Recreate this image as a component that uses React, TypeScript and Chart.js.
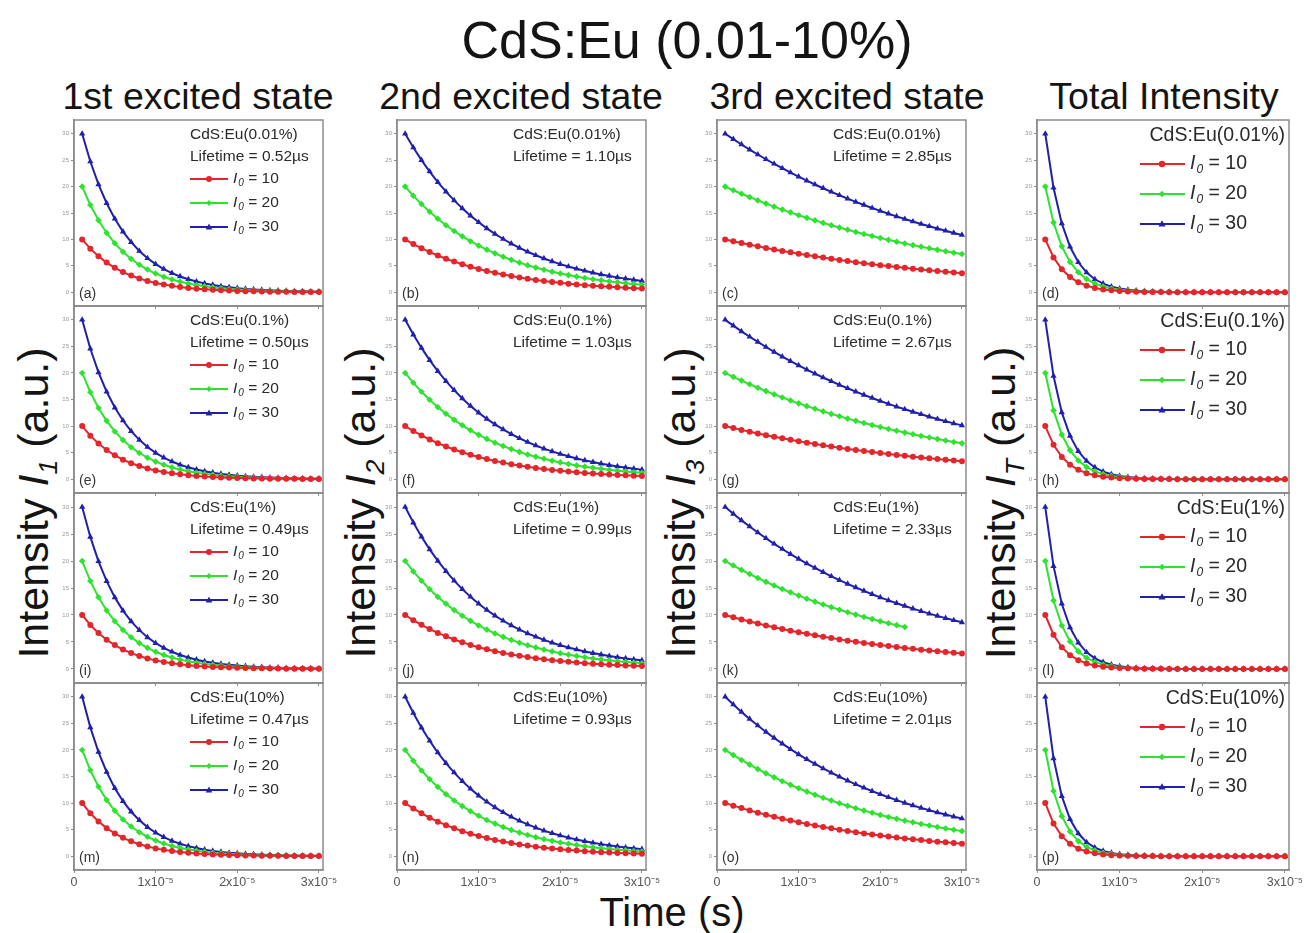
import React, { useEffect, useRef } from 'react';
import { Chart, registerables } from 'chart.js';

Chart.register(...registerables);

// ---------------- data ----------------
const TIME = [
  1e-6, 2e-6, 3e-6, 4e-6, 5e-6, 6e-6, 7e-6, 8e-6, 9e-6, 10e-6,
  11e-6, 12e-6, 13e-6, 14e-6, 15e-6, 16e-6, 17e-6, 18e-6, 19e-6, 20e-6,
  21e-6, 22e-6, 23e-6, 24e-6, 25e-6, 26e-6, 27e-6, 28e-6, 29e-6, 30e-6,
];

const DOPING = ['0.01%', '0.1%', '1%', '10%'];
const LIFETIME_1ST = ['0.52', '0.50', '0.49', '0.47'];
const LIFETIME_2ND = ['1.10', '1.03', '0.99', '0.93'];
const LIFETIME_3RD = ['2.85', '2.67', '2.33', '2.01'];
const I0_VALUES = ['10', '20', '30'];
const PANEL_LETTERS = ['a', 'b', 'c', 'd', 'e', 'f', 'g', 'h', 'i', 'j', 'k', 'l', 'm', 'n', 'o', 'p'];
const COLUMN_TITLES = ['1st excited state', '2nd excited state', '3rd excited state', 'Total Intensity'];
const Y_SUBSCRIPTS = ['1', '2', '3', 'T'];
const Y_TICKS = [0, 5, 10, 15, 20, 25, 30];
const X_TICKS = [0, 1e-5, 2e-5, 3e-5];
const X_TICK_LABELS = ['0', '1x10\u207B\u2075', '2x10\u207B\u2075', '3x10\u207B\u2075'];

// 1st excited state
const A10 = [10, 8.25, 6.81, 5.62, 4.63, 3.82, 3.16, 2.6, 2.15, 1.77, 1.46, 1.21, 1.0, 0.82, 0.68, 0.56, 0.46, 0.38, 0.31, 0.26, 0.21, 0.18, 0.15, 0.12, 0.1, 0.08, 0.07, 0.06, 0.05, 0.04];
const A20 = [20, 16.5, 13.62, 11.23, 9.27, 7.65, 6.31, 5.21, 4.3, 3.54, 2.92, 2.41, 1.99, 1.64, 1.36, 1.12, 0.92, 0.76, 0.63, 0.52, 0.43, 0.35, 0.29, 0.24, 0.2, 0.16, 0.13, 0.11, 0.09, 0.08];
const A30 = [30, 24.75, 20.42, 16.85, 13.9, 11.47, 9.47, 7.81, 6.44, 5.32, 4.39, 3.62, 2.99, 2.46, 2.03, 1.68, 1.38, 1.14, 0.94, 0.78, 0.64, 0.53, 0.44, 0.36, 0.3, 0.25, 0.2, 0.17, 0.14, 0.11];
const E10 = [10, 8.19, 6.7, 5.49, 4.49, 3.68, 3.01, 2.47, 2.02, 1.65, 1.35, 1.11, 0.91, 0.74, 0.61, 0.5, 0.41, 0.33, 0.27, 0.22, 0.18, 0.15, 0.12, 0.1, 0.08, 0.07, 0.06, 0.05, 0.04, 0.03];
const E20 = [20, 16.37, 13.41, 10.98, 8.99, 7.36, 6.02, 4.93, 4.04, 3.31, 2.71, 2.22, 1.81, 1.49, 1.22, 1.0, 0.82, 0.67, 0.55, 0.45, 0.37, 0.3, 0.25, 0.2, 0.16, 0.13, 0.11, 0.09, 0.07, 0.06];
const E30 = [30, 24.56, 20.11, 16.46, 13.48, 11.04, 9.04, 7.4, 6.06, 4.96, 4.06, 3.32, 2.72, 2.23, 1.82, 1.49, 1.22, 1.0, 0.82, 0.67, 0.55, 0.45, 0.37, 0.3, 0.25, 0.2, 0.17, 0.14, 0.11, 0.09];
const I10 = [10, 8.15, 6.65, 5.42, 4.42, 3.6, 2.94, 2.4, 1.95, 1.59, 1.3, 1.06, 0.86, 0.7, 0.57, 0.47, 0.38, 0.31, 0.25, 0.21, 0.17, 0.14, 0.11, 0.09, 0.07, 0.06, 0.05, 0.04, 0.03, 0.03];
const I20 = [20, 16.31, 13.3, 10.84, 8.84, 7.21, 5.88, 4.79, 3.91, 3.19, 2.6, 2.12, 1.73, 1.41, 1.15, 0.94, 0.76, 0.62, 0.51, 0.41, 0.34, 0.28, 0.22, 0.18, 0.15, 0.12, 0.1, 0.08, 0.07, 0.05];
const I30 = [30, 24.46, 19.95, 16.26, 13.26, 10.81, 8.82, 7.19, 5.86, 4.78, 3.9, 3.18, 2.59, 2.11, 1.72, 1.4, 1.15, 0.93, 0.76, 0.62, 0.51, 0.41, 0.34, 0.27, 0.23, 0.18, 0.15, 0.12, 0.1, 0.08];
const M10 = [10, 8.08, 6.53, 5.28, 4.27, 3.45, 2.79, 2.26, 1.82, 1.47, 1.19, 0.96, 0.78, 0.63, 0.51, 0.41, 0.33, 0.27, 0.22, 0.18, 0.14, 0.12, 0.09, 0.08, 0.06, 0.05, 0.04, 0.03, 0.03, 0.02];
const M20 = [20, 16.17, 13.07, 10.56, 8.54, 6.9, 5.58, 4.51, 3.65, 2.95, 2.38, 1.93, 1.56, 1.26, 1.02, 0.82, 0.66, 0.54, 0.43, 0.35, 0.28, 0.23, 0.19, 0.15, 0.12, 0.1, 0.08, 0.06, 0.05, 0.04];
const M30 = [30, 24.25, 19.6, 15.85, 12.81, 10.35, 8.37, 6.77, 5.47, 4.42, 3.57, 2.89, 2.33, 1.89, 1.53, 1.23, 1.0, 0.81, 0.65, 0.53, 0.43, 0.35, 0.28, 0.23, 0.18, 0.15, 0.12, 0.1, 0.08, 0.06];

// 2nd excited state
const B10 = [10, 9.13, 8.34, 7.61, 6.95, 6.35, 5.8, 5.29, 4.83, 4.41, 4.03, 3.68, 3.36, 3.07, 2.8, 2.56, 2.34, 2.13, 1.95, 1.78, 1.62, 1.48, 1.35, 1.24, 1.13, 1.03, 0.94, 0.86, 0.78, 0.72];
const B20 = [20, 18.26, 16.68, 15.23, 13.9, 12.69, 11.59, 10.58, 9.66, 8.82, 8.06, 7.36, 6.72, 6.13, 5.6, 5.11, 4.67, 4.26, 3.89, 3.56, 3.25, 2.96, 2.71, 2.47, 2.26, 2.06, 1.88, 1.72, 1.57, 1.43];
const B30 = [30, 27.39, 25.01, 22.84, 20.85, 19.04, 17.39, 15.88, 14.5, 13.24, 12.09, 11.04, 10.08, 9.2, 8.4, 7.67, 7.0, 6.4, 5.84, 5.33, 4.87, 4.45, 4.06, 3.71, 3.38, 3.09, 2.82, 2.58, 2.35, 2.15];
const F10 = [10, 9.07, 8.24, 7.47, 6.78, 6.15, 5.59, 5.07, 4.6, 4.17, 3.79, 3.44, 3.12, 2.83, 2.57, 2.33, 2.12, 1.92, 1.74, 1.58, 1.44, 1.3, 1.18, 1.07, 0.97, 0.88, 0.8, 0.73, 0.66, 0.6];
const F20 = [20, 18.15, 16.47, 14.95, 13.56, 12.31, 11.17, 10.14, 9.2, 8.35, 7.58, 6.87, 6.24, 5.66, 5.14, 4.66, 4.23, 3.84, 3.48, 3.16, 2.87, 2.6, 2.36, 2.14, 1.95, 1.77, 1.6, 1.45, 1.32, 1.2];
const F30 = [30, 27.22, 24.71, 22.42, 20.35, 18.46, 16.76, 15.2, 13.8, 12.52, 11.36, 10.31, 9.36, 8.49, 7.71, 6.99, 6.35, 5.76, 5.23, 4.74, 4.31, 3.91, 3.54, 3.22, 2.92, 2.65, 2.4, 2.18, 1.98, 1.8];
const J10 = [10, 9.04, 8.17, 7.39, 6.68, 6.04, 5.46, 4.93, 4.46, 4.03, 3.64, 3.29, 2.98, 2.69, 2.43, 2.2, 1.99, 1.8, 1.62, 1.47, 1.33, 1.2, 1.08, 0.98, 0.89, 0.8, 0.72, 0.65, 0.59, 0.53];
const J20 = [20, 18.08, 16.34, 14.77, 13.35, 12.07, 10.91, 9.86, 8.91, 8.06, 7.28, 6.58, 5.95, 5.38, 4.86, 4.4, 3.97, 3.59, 3.25, 2.93, 2.65, 2.4, 2.17, 1.96, 1.77, 1.6, 1.45, 1.31, 1.18, 1.07];
const J30 = [30, 27.12, 24.51, 22.16, 20.03, 18.11, 16.37, 14.79, 13.37, 12.09, 10.93, 9.88, 8.93, 8.07, 7.29, 6.59, 5.96, 5.39, 4.87, 4.4, 3.98, 3.6, 3.25, 2.94, 2.66, 2.4, 2.17, 1.96, 1.77, 1.6];
const N10 = [10, 8.98, 8.07, 7.24, 6.5, 5.84, 5.25, 4.71, 4.23, 3.8, 3.41, 3.06, 2.75, 2.47, 2.22, 1.99, 1.79, 1.61, 1.44, 1.3, 1.16, 1.05, 0.94, 0.84, 0.76, 0.68, 0.61, 0.55, 0.49, 0.44];
const N20 = [20, 17.96, 16.13, 14.49, 13.01, 11.68, 10.49, 9.42, 8.46, 7.6, 6.82, 6.13, 5.5, 4.94, 4.44, 3.99, 3.58, 3.21, 2.89, 2.59, 2.33, 2.09, 1.88, 1.69, 1.51, 1.36, 1.22, 1.1, 0.98, 0.88];
const N30 = [30, 26.94, 24.2, 21.73, 19.51, 17.52, 15.74, 14.13, 12.69, 11.4, 10.24, 9.19, 8.26, 7.41, 6.66, 5.98, 5.37, 4.82, 4.33, 3.89, 3.49, 3.14, 2.82, 2.53, 2.27, 2.04, 1.83, 1.64, 1.48, 1.33];

// 3rd excited state
const C10 = [10, 9.66, 9.32, 9.0, 8.69, 8.39, 8.1, 7.82, 7.55, 7.29, 7.04, 6.8, 6.56, 6.34, 6.12, 5.91, 5.7, 5.51, 5.32, 5.13, 4.96, 4.79, 4.62, 4.46, 4.31, 4.16, 4.02, 3.88, 3.74, 3.62];
const C20 = [20, 19.31, 18.64, 18.0, 17.38, 16.78, 16.2, 15.64, 15.11, 14.58, 14.08, 13.6, 13.13, 12.67, 12.24, 11.82, 11.41, 11.02, 10.64, 10.27, 9.91, 9.57, 9.24, 8.92, 8.62, 8.32, 8.03, 7.76, 7.49, 7.23];
const C30 = [30, 28.97, 27.97, 27.0, 26.07, 25.17, 24.31, 23.47, 22.66, 21.88, 21.12, 20.39, 19.69, 19.01, 18.36, 17.72, 17.11, 16.52, 15.95, 15.4, 14.87, 14.36, 13.86, 13.39, 12.92, 12.48, 12.05, 11.63, 11.23, 10.85];
const G10 = [10, 9.63, 9.28, 8.94, 8.61, 8.29, 7.99, 7.69, 7.41, 7.14, 6.88, 6.62, 6.38, 6.15, 5.92, 5.7, 5.49, 5.29, 5.1, 4.91, 4.73, 4.55, 4.39, 4.23, 4.07, 3.92, 3.78, 3.64, 3.5, 3.38];
const G20 = [20, 19.26, 18.56, 17.87, 17.22, 16.58, 15.97, 15.39, 14.82, 14.28, 13.75, 13.25, 12.76, 12.29, 11.84, 11.4, 10.98, 10.58, 10.19, 9.82, 9.46, 9.11, 8.77, 8.45, 8.14, 7.84, 7.55, 7.27, 7.01, 6.75];
const G30 = [30, 28.9, 27.83, 26.81, 25.83, 24.88, 23.96, 23.08, 22.23, 21.41, 20.63, 19.87, 19.14, 18.44, 17.76, 17.11, 16.48, 15.87, 15.29, 14.72, 14.18, 13.66, 13.16, 12.68, 12.21, 11.76, 11.33, 10.91, 10.51, 10.13];
const K10 = [10, 9.58, 9.18, 8.79, 8.42, 8.07, 7.73, 7.41, 7.09, 6.8, 6.51, 6.24, 5.98, 5.72, 5.48, 5.25, 5.03, 4.82, 4.62, 4.42, 4.24, 4.06, 3.89, 3.73, 3.57, 3.42, 3.28, 3.14, 3.01, 2.88];
const K20 = [20, 19.16, 18.35, 17.58, 16.85, 16.14, 15.46, 14.81, 14.19, 13.59, 13.02, 12.47, 11.95, 11.45, 10.97, 10.51, 10.06, 9.64, 9.24, 8.85, 8.48, 8.12, 7.78];
const K30 = [30, 28.74, 27.53, 26.38, 25.27, 24.21, 23.19, 22.22, 21.28, 20.39, 19.53, 18.71, 17.93, 17.17, 16.45, 15.76, 15.1, 14.46, 13.85, 13.27, 12.71, 12.18, 11.67, 11.18, 10.71, 10.26, 9.83, 9.42, 9.02, 8.64];
const O10 = [10, 9.51, 9.05, 8.61, 8.2, 7.8, 7.42, 7.06, 6.72, 6.39, 6.08, 5.79, 5.5, 5.24, 4.98, 4.74, 4.51, 4.29, 4.08, 3.89, 3.7, 3.52, 3.35, 3.18, 3.03, 2.88, 2.74, 2.61, 2.48, 2.36];
const O20 = [20, 19.03, 18.11, 17.23, 16.39, 15.59, 14.84, 14.12, 13.43, 12.78, 12.16, 11.57, 11.01, 10.47, 9.97, 9.48, 9.02, 8.58, 8.17, 7.77, 7.39, 7.03, 6.69, 6.37, 6.06, 5.77, 5.49, 5.22, 4.97, 4.72];
const O30 = [30, 28.54, 27.16, 25.84, 24.59, 23.39, 22.26, 21.18, 20.15, 19.17, 18.24, 17.36, 16.51, 15.71, 14.95, 14.22, 13.53, 12.88, 12.25, 11.66, 11.09, 10.55, 10.04, 9.55, 9.09, 8.65, 8.23, 7.83, 7.45, 7.09];

// Total intensity
const D10 = [10, 6.59, 4.35, 2.87, 1.89, 1.25, 0.82, 0.54, 0.36, 0.24, 0.16, 0.1, 0.07, 0.04, 0.03, 0.02, 0.01, 0.01, 0.01, 0, 0, 0, 0, 0, 0, 0, 0, 0, 0, 0];
const D20 = [20, 13.18, 8.69, 5.73, 3.78, 2.49, 1.64, 1.08, 0.71, 0.47, 0.31, 0.2, 0.13, 0.09, 0.06, 0.04, 0.03, 0.02, 0.01, 0.01, 0, 0, 0, 0, 0, 0, 0, 0, 0, 0];
const D30 = [30, 19.78, 13.04, 8.6, 5.67, 3.74, 2.46, 1.62, 1.07, 0.71, 0.47, 0.31, 0.2, 0.13, 0.09, 0.06, 0.04, 0.03, 0.02, 0.01, 0.01, 0, 0, 0, 0, 0, 0, 0, 0, 0];
const H10 = [10, 6.47, 4.19, 2.71, 1.76, 1.14, 0.74, 0.48, 0.31, 0.2, 0.13, 0.08, 0.05, 0.04, 0.02, 0.02, 0.01, 0.01, 0, 0, 0, 0, 0, 0, 0, 0, 0, 0, 0, 0];
const H20 = [20, 12.95, 8.38, 5.43, 3.51, 2.27, 1.47, 0.95, 0.62, 0.4, 0.26, 0.17, 0.11, 0.07, 0.05, 0.03, 0.02, 0.01, 0.01, 0, 0, 0, 0, 0, 0, 0, 0, 0, 0, 0];
const H30 = [30, 19.42, 12.57, 8.14, 5.27, 3.41, 2.21, 1.43, 0.93, 0.6, 0.39, 0.25, 0.16, 0.11, 0.07, 0.05, 0.03, 0.02, 0.01, 0.01, 0, 0, 0, 0, 0, 0, 0, 0, 0, 0];
const L10 = [10, 6.35, 4.03, 2.56, 1.62, 1.03, 0.65, 0.42, 0.26, 0.17, 0.11, 0.07, 0.04, 0.03, 0.02, 0.01, 0.01, 0, 0, 0, 0, 0, 0, 0, 0, 0, 0, 0, 0, 0];
const L20 = [20, 12.69, 8.06, 5.11, 3.25, 2.06, 1.31, 0.83, 0.53, 0.33, 0.21, 0.13, 0.09, 0.05, 0.03, 0.02, 0.01, 0.01, 0, 0, 0, 0, 0, 0, 0, 0, 0, 0, 0, 0];
const L30 = [30, 19.04, 12.09, 7.67, 4.87, 3.09, 1.96, 1.25, 0.79, 0.5, 0.32, 0.2, 0.13, 0.08, 0.05, 0.03, 0.02, 0.01, 0.01, 0, 0, 0, 0, 0, 0, 0, 0, 0, 0, 0];
const P10 = [10, 6.14, 3.77, 2.32, 1.42, 0.87, 0.54, 0.33, 0.2, 0.12, 0.08, 0.05, 0.03, 0.02, 0.01, 0.01, 0, 0, 0, 0, 0, 0, 0, 0, 0, 0, 0, 0, 0, 0];
const P20 = [20, 12.28, 7.54, 4.63, 2.84, 1.75, 1.07, 0.66, 0.4, 0.25, 0.15, 0.09, 0.06, 0.04, 0.02, 0.01, 0.01, 0, 0, 0, 0, 0, 0, 0, 0, 0, 0, 0, 0, 0];
const P30 = [30, 18.42, 11.31, 6.95, 4.26, 2.62, 1.61, 0.99, 0.61, 0.37, 0.23, 0.14, 0.09, 0.05, 0.03, 0.02, 0.01, 0.01, 0, 0, 0, 0, 0, 0, 0, 0, 0, 0, 0, 0];

// panel table (row-major: a b c d / e f g h / ...)
const PANEL_SERIES = [
  [A10, A20, A30], [B10, B20, B30], [C10, C20, C30], [D10, D20, D30],
  [E10, E20, E30], [F10, F20, F30], [G10, G20, G30], [H10, H20, H30],
  [I10, I20, I30], [J10, J20, J30], [K10, K20, K30], [L10, L20, L30],
  [M10, M20, M30], [N10, N20, N30], [O10, O20, O30], [P10, P20, P30],
];
const LIFETIMES = [LIFETIME_1ST, LIFETIME_2ND, LIFETIME_3RD];

// ---------------- style / layout ----------------
const FONT = '"Liberation Sans", Arial, Helvetica, sans-serif';
const COLORS = ['#e3262b', '#2fe22f', '#2020ad'];
const MARKERS = ['circle', 'rectRot', 'triangle'];
const MARKER_RADIUS = [3, 3.3, 3.6];
const AXIS_COLOR = '#8c8c8c';
const FRAME_LEFT = [74, 397, 717, 1037];
const FRAME_WIDTH = [249, 249, 249, 252];
const FRAME_TOP = [120, 306, 493, 683];
const FRAME_HEIGHT = [186, 187, 190, 187];
const X_MAX = 3.05e-5;
const Y_MIN = -2.6;
const Y_MAX = 32.6;

function drawMarker(ctx: CanvasRenderingContext2D, kind: number, x: number, y: number, r: number, color: string) {
  ctx.save();
  ctx.fillStyle = color;
  ctx.beginPath();
  if (kind === 0) {
    ctx.arc(x, y, r, 0, Math.PI * 2);
  } else if (kind === 1) {
    ctx.moveTo(x, y - r); ctx.lineTo(x + r, y); ctx.lineTo(x, y + r); ctx.lineTo(x - r, y);
    ctx.closePath();
  } else {
    ctx.moveTo(x, y - r * 1.2); ctx.lineTo(x + r * 1.1, y + r * 0.8); ctx.lineTo(x - r * 1.1, y + r * 0.8);
    ctx.closePath();
  }
  ctx.fill();
  ctx.restore();
}

function drawI0(ctx: CanvasRenderingContext2D, x: number, y: number, val: string, size: number) {
  ctx.save();
  ctx.fillStyle = '#2a2a2a';
  ctx.textAlign = 'left';
  ctx.textBaseline = 'middle';
  ctx.font = `italic ${size}px ${FONT}`;
  ctx.fillText('I', x, y);
  let w = ctx.measureText('I').width + 1;
  const sub = Math.round(size * 0.62);
  ctx.font = `italic ${sub}px ${FONT}`;
  ctx.fillText('0', x + w, y + size * 0.3);
  w += ctx.measureText('0').width;
  ctx.font = `${size}px ${FONT}`;
  ctx.fillText(' = ' + val, x + w, y);
  ctx.restore();
}

function Panel({ row, col }: { row: number; col: number }) {
  const ref = useRef<HTMLCanvasElement>(null);
  const isBottom = row === 3;
  const L = 24, T = 10, R = 30;
  const B = isBottom ? 26 : 6;
  const W = FRAME_WIDTH[col] + L + R;
  const H = FRAME_HEIGHT[row] + T + B;

  useEffect(() => {
    const idx = row * 4 + col;
    const series = PANEL_SERIES[idx];
    const datasets = series.map((vals, s) => ({
      data: vals.map((v, i) => ({ x: TIME[i], y: v })),
      borderColor: COLORS[s],
      backgroundColor: COLORS[s],
      borderWidth: 2,
      pointStyle: MARKERS[s] as any,
      pointRadius: MARKER_RADIUS[s],
      pointBorderWidth: 0,
      pointBackgroundColor: COLORS[s],
      tension: 0,
      clip: false as any,
    }));

    const overlay = {
      id: 'overlay',
      afterDraw(chart: any) {
        const ctx: CanvasRenderingContext2D = chart.ctx;
        const a = chart.chartArea;
        // frame
        ctx.save();
        ctx.strokeStyle = AXIS_COLOR;
        ctx.lineWidth = 1.5;
        ctx.strokeRect(a.left, a.top, a.right - a.left, a.bottom - a.top);
        ctx.restore();

        ctx.save();
        ctx.fillStyle = '#2a2a2a';
        ctx.textBaseline = 'middle';
        const label = 'CdS:Eu(' + DOPING[row] + ')';
        if (col < 3) {
          const tx = a.left + 116;
          ctx.textAlign = 'left';
          ctx.font = `15.5px ${FONT}`;
          ctx.fillText(label, tx, a.top + 15);
          ctx.fillText('Lifetime = ' + LIFETIMES[col][row] + '\u00B5s', tx, a.top + 37);
          if (col === 0) {
            [59, 83, 107].forEach((dy, s) => {
              const y = a.top + dy;
              ctx.save();
              ctx.strokeStyle = COLORS[s];
              ctx.lineWidth = 2;
              ctx.beginPath();
              ctx.moveTo(tx, y); ctx.lineTo(tx + 38, y);
              ctx.stroke();
              ctx.restore();
              drawMarker(ctx, s, tx + 19, y, 3, COLORS[s]);
              drawI0(ctx, tx + 43, y, I0_VALUES[s], 15.5);
            });
          }
        } else {
          ctx.textAlign = 'right';
          ctx.font = `19.5px ${FONT}`;
          ctx.fillText(label, a.right - 4, a.top + 16);
          const lx = a.left + 103;
          [44, 74, 104].forEach((dy, s) => {
            const y = a.top + dy;
            ctx.save();
            ctx.strokeStyle = COLORS[s];
            ctx.lineWidth = 2;
            ctx.beginPath();
            ctx.moveTo(lx, y); ctx.lineTo(lx + 45, y);
            ctx.stroke();
            ctx.restore();
            drawMarker(ctx, s, lx + 22, y, 3.2, COLORS[s]);
            drawI0(ctx, lx + 50, y, I0_VALUES[s], 19.5);
          });
        }
        // panel letter
        ctx.textAlign = 'left';
        ctx.font = `14px ${FONT}`;
        ctx.fillStyle = '#333';
        ctx.fillText('(' + PANEL_LETTERS[idx] + ')', a.left + 5, a.bottom - 12);
        ctx.restore();
      },
    };

    const chart = new Chart(ref.current as HTMLCanvasElement, {
      type: 'line',
      data: { datasets: datasets as any },
      options: {
        responsive: false,
        animation: false,
        devicePixelRatio: 1,
        layout: { padding: { left: 0, top: T, right: R, bottom: 0 } },
        plugins: { legend: { display: false }, tooltip: { enabled: false }, title: { display: false } },
        scales: {
          x: {
            type: 'linear',
            min: 0,
            max: X_MAX,
            afterBuildTicks: (s: any) => { s.ticks = X_TICKS.map((v) => ({ value: v })); },
            afterFit: (s: any) => { s.height = B; },
            ticks: {
              display: isBottom,
              autoSkip: false,
              maxRotation: 0,
              padding: 2,
              color: '#555',
              font: { size: 12.5, family: FONT },
              callback: (v: any) => X_TICK_LABELS[X_TICKS.indexOf(Number(v))],
            },
            grid: { drawOnChartArea: false, drawTicks: true, tickLength: 3, color: AXIS_COLOR },
            border: { color: AXIS_COLOR, width: 1.5 },
          },
          y: {
            type: 'linear',
            min: Y_MIN,
            max: Y_MAX,
            afterBuildTicks: (s: any) => { s.ticks = Y_TICKS.map((v) => ({ value: v })); },
            afterFit: (s: any) => { s.width = L; },
            ticks: {
              padding: 2,
              color: '#999',
              font: { size: 6, family: FONT },
              callback: (v: any) => String(v),
            },
            grid: { drawOnChartArea: false, drawTicks: true, tickLength: 3, color: AXIS_COLOR },
            border: { color: AXIS_COLOR, width: 1.5 },
          },
        },
      } as any,
      plugins: [overlay],
    });
    return () => chart.destroy();
  }, [row, col]);

  return (
    <canvas
      ref={ref}
      width={W}
      height={H}
      style={{ position: 'absolute', left: FRAME_LEFT[col] - L, top: FRAME_TOP[row] - T, width: W, height: H }}
    />
  );
}

const textBase: React.CSSProperties = {
  position: 'absolute',
  fontFamily: FONT,
  color: '#141414',
  whiteSpace: 'nowrap',
  lineHeight: 1,
};

export default function App() {
  useEffect(() => {
    document.body.style.margin = '0';
  }, []);
  const colCenters = [198, 521, 847, 1164];
  const yTitleX = [33, 360, 680, 1000];
  const rows = [0, 1, 2, 3];
  const cols = [0, 1, 2, 3];
  return (
    <div style={{ position: 'absolute', left: 0, top: 0, width: 1314, height: 933, background: '#fff', overflow: 'hidden' }}>
      <div style={{ ...textBase, left: 687, top: 40, fontSize: 52, transform: 'translate(-50%, -50%)' }}>CdS:Eu (0.01-10%)</div>
      {COLUMN_TITLES.map((t, i) => (
        <div key={t} style={{ ...textBase, left: colCenters[i], top: 97, fontSize: 37.5, transform: 'translate(-50%, -50%)' }}>{t}</div>
      ))}
      {Y_SUBSCRIPTS.map((s, i) => (
        <div key={s} style={{ ...textBase, left: yTitleX[i], top: 503, fontSize: 43, transform: 'translate(-50%, -50%) rotate(-90deg)' }}>
          Intensity <i>I</i><span style={{ fontStyle: 'italic', fontSize: '0.62em', position: 'relative', top: '0.35em' }}>{s}</span> (a.u.)
        </div>
      ))}
      <div style={{ ...textBase, left: 672, top: 912, fontSize: 40, transform: 'translate(-50%, -50%)' }}>Time (s)</div>
      {rows.map((r) => cols.map((c) => <Panel key={`${r}-${c}`} row={r} col={c} />))}
    </div>
  );
}
